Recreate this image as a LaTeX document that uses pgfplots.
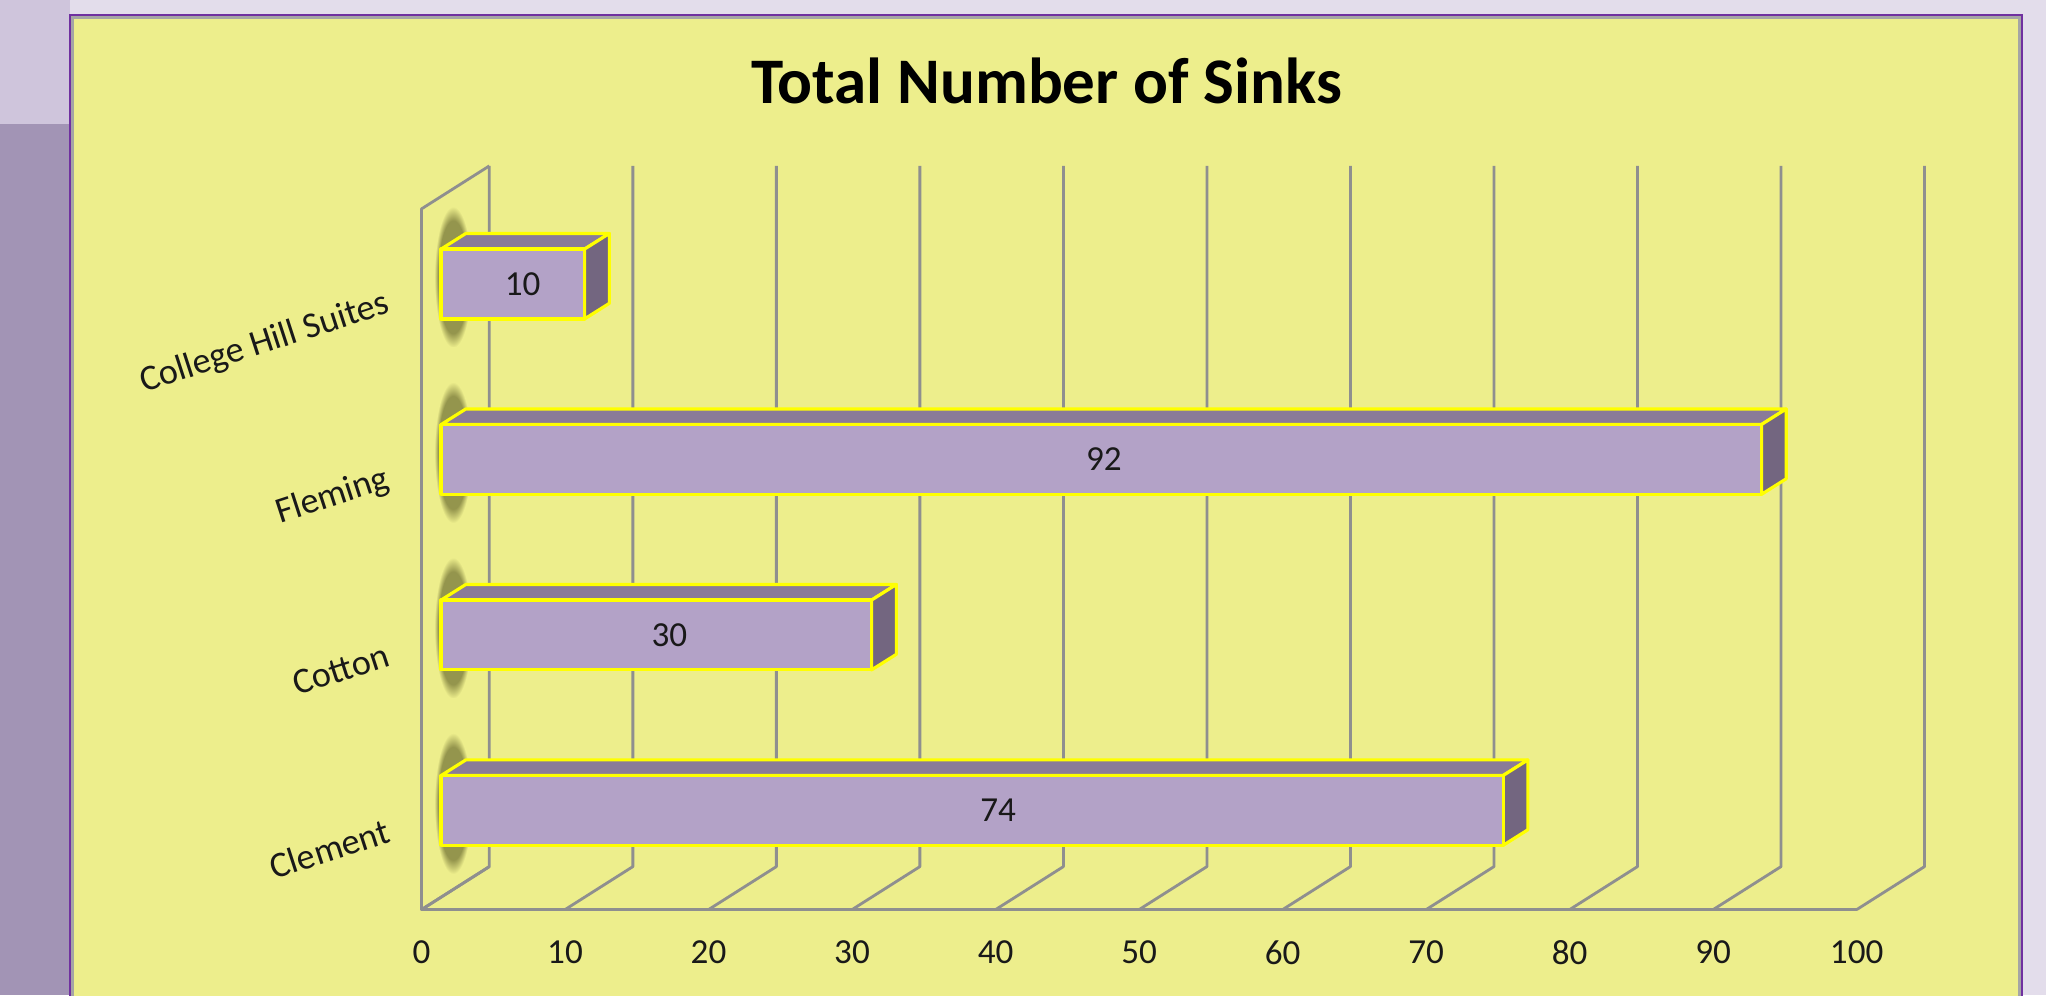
\documentclass[border=0pt]{standalone}
\usepackage{pgfplots}
\pgfplotsset{compat=1.18}
\usetikzlibrary{fadings}
\usepackage{fontspec}
\setmainfont{Carlito}
\definecolor{panel}{RGB}{237,238,140}
\definecolor{barfront}{RGB}{179,162,199}
\definecolor{bartop}{RGB}{138,123,152}
\definecolor{barside}{RGB}{115,102,128}
\definecolor{gridc}{RGB}{143,143,143}
\definecolor{bgl}{RGB}{227,221,235}
\definecolor{bgp}{RGB}{162,148,181}
\definecolor{bgpl}{RGB}{207,197,220}
\definecolor{borderc}{RGB}{112,48,160}
\definecolor{edgey}{RGB}{255,255,0}
\definecolor{shadowc}{RGB}{90,90,35}

\newcommand{\threedbar}[2]{%
 \pgfmathsetmacro{\xa}{1.364}%
 \pgfmathsetmacro{\xb}{1.364+#1}%
 \pgfmathsetmacro{\xc}{1.364+#1+1.727}%
 \pgfmathsetmacro{\xd}{1.364+1.727}%
 \pgfmathsetmacro{\ya}{#2-0.199}%
 \pgfmathsetmacro{\yb}{#2+0.199}%
 \pgfmathsetmacro{\yc}{#2+0.199+0.089}%
 \pgfmathsetmacro{\yd}{#2-0.199+0.089}%
 \addplot[fill=bartop, draw=edgey, line width=0.9pt, line join=round] coordinates {(\xa,\yb) (\xb,\yb) (\xc,\yc) (\xd,\yc)} -- cycle;
 \addplot[fill=barside, draw=edgey, line width=0.9pt, line join=round] coordinates {(\xb,\ya) (\xc,\yd) (\xc,\yc) (\xb,\yb)} -- cycle;
 \addplot[fill=barfront, draw=edgey, line width=0.9pt, line join=round] coordinates {(\xa,\ya) (\xb,\ya) (\xb,\yb) (\xa,\yb)} -- cycle;
}

\begin{document}
\begin{tikzpicture}[x=1cm,y=1cm]
\useasboundingbox (0,0) rectangle (20.46,9.95);
\fill[bgl] (0,0) rectangle (20.46,9.95);
\fill[bgp] (0,0) rectangle (0.70,8.71);
\fill[bgpl] (0,8.71) rectangle (0.70,9.95);
\fill[panel] (0.70,-0.2) rectangle (20.22,9.80);
\draw[gridc!80, line width=0.6pt] (0.725,-0.2) rectangle (20.195,9.775);
\draw[borderc, line width=0.7pt] (0.70,-0.2) rectangle (20.22,9.80);
\node[anchor=base, font=\bfseries\fontsize{18.5}{22}\selectfont, text=black] at (10.465,8.92) {Total Number of Sinks};
\begin{axis}[
  at={(4.215cm,0.854cm)}, anchor=south west,
  scale only axis, width=15.03cm, height=7.437cm,
  xmin=0, xmax=104.727, ymin=-0.565, ymax=3.673,
  axis line style={draw=none}, major tick length=0pt,
  xtick={0,10,...,100}, ytick={0,1,2,3},
  yticklabels={Clement,Cotton,Fleming,College Hill Suites},
  ticklabel style={font=\fontsize{10}{12}\selectfont, text=black!90},
  xticklabel style={anchor=center, yshift=-0.43cm},
  yticklabel style={rotate=18, anchor=east, inner sep=0pt, xshift=-0.37cm, yshift=-0.08cm, font=\fontsize{10.3}{12}\selectfont},
  /pgf/number format/assume math mode=true,
  clip=false,
]
% wall and floor
\addplot[gridc, line width=0.8pt, line join=round] coordinates {(4.727,-0.32) (0,-0.565) (0,3.428) (4.727,3.673)};
\addplot[gridc, line width=0.8pt] coordinates {(0,-0.565) (100,-0.565)};
\pgfplotsinvokeforeach{0,10,20,30,40,50,60,70,80,90,100}{%
  \addplot[gridc, line width=0.8pt, line join=round] coordinates {(#1,-0.565) ({#1+4.727},-0.32) ({#1+4.727},3.673)};
}
% blurred shadows on the wall
\pgfplotsinvokeforeach{0,1,2,3}{%
  \addplot[draw=none, fill=shadowc, opacity=0.6, path fading=circle with fuzzy edge 20 percent] coordinates {(0.9,{#1-0.36}) (3.5,{#1-0.36}) (3.5,{#1+0.44}) (0.9,{#1+0.44})} -- cycle;
}
% bars
\threedbar{74}{0}
\threedbar{30}{1}
\threedbar{92}{2}
\threedbar{10}{3}
% value labels
\addplot[draw=none, mark=none, nodes near coords, point meta=explicit symbolic,
  every node near coord/.append style={anchor=center, font=\fontsize{10}{12}\selectfont, text=black!90}]
  coordinates {(40.18,0) [74] (17.27,1) [30] (47.55,2) [92] (7.05,3) [10]};
\end{axis}
\end{tikzpicture}
\end{document}
